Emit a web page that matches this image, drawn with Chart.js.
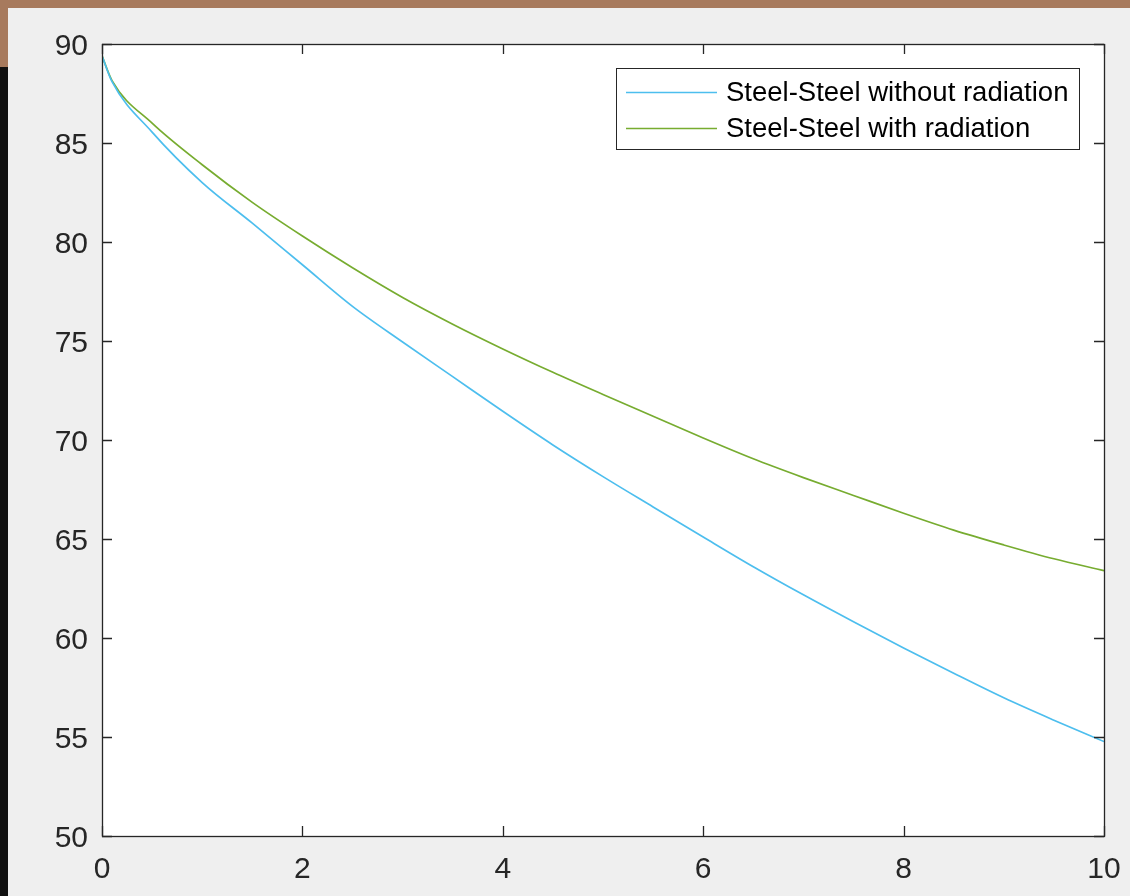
<!DOCTYPE html>
<html>
<head>
<meta charset="utf-8">
<title>Steel-Steel cooling</title>
<script src="https://cdn.jsdelivr.net/npm/chart.js@4.4.1/dist/chart.umd.min.js"></script>
<style>
    html, body { margin: 0; padding: 0; }
    body { width: 1130px; height: 896px; background: #efefef; position: relative; overflow: hidden; }
    .top-bar { position: absolute; left: 0; top: 0; width: 1130px; height: 8px; background: #a77a5d; }
    .side-brown { position: absolute; left: 0; top: 0; width: 8px; height: 67px; background: #a77a5d; }
    .side-dark { position: absolute; left: 0; top: 67px; width: 8px; height: 829px; background: #101010; }
    .chart-wrap { position: absolute; left: 8px; top: 8px; width: 1122px; height: 888px; }
</style>
</head>
<body>
<div class="top-bar"></div>
<div class="side-brown"></div>
<div class="side-dark"></div>
<div class="chart-wrap"><canvas id="cool-chart"></canvas></div>

<script>
// Values
const timeValues = [0, 0.1, 0.5, 1, 1.5, 2, 2.5, 3, 3.5, 4, 4.5, 5, 5.5, 6, 6.5, 7, 7.5, 8, 8.5, 9, 9.5, 10];
const withoutRadiation = [89.4, 88.1, 85.55, 83.0, 80.95, 78.85, 76.75, 74.95, 73.2, 71.45, 69.75, 68.15, 66.62, 65.1, 63.6, 62.18, 60.82, 59.5, 58.22, 56.98, 55.85, 54.77];
const withRadiation = [89.4, 88.15, 86.0, 83.9, 82.0, 80.3, 78.7, 77.2, 75.85, 74.6, 73.42, 72.3, 71.2, 70.1, 69.05, 68.1, 67.2, 66.3, 65.45, 64.7, 64.0, 63.4];
const seriesLabels = ['Steel-Steel without radiation', 'Steel-Steel with radiation'];
const seriesColors = ['#4dbeee', '#77ac30'];
const xTicks = [0, 2, 4, 6, 8, 10];
const yTicks = [50, 55, 60, 65, 70, 75, 80, 85, 90];

const fontFamily = "'Liberation Sans', Arial, Helvetica, sans-serif";
const axisColor = '#262626';

function toPoints(values) {
    return timeValues.map((t, i) => ({ x: t, y: values[i] }));
}

// White plot area, box and inward ticks like MATLAB
const axesBoxPlugin = {
    id: 'axesBox',
    beforeDraw(chart) {
        const a = chart.chartArea;
        const ctx = chart.ctx;
        ctx.save();
        ctx.fillStyle = '#ffffff';
        ctx.fillRect(a.left, a.top, a.right - a.left, a.bottom - a.top);
        ctx.restore();
    },
    afterDatasetsDraw(chart) {
        const a = chart.chartArea;
        const ctx = chart.ctx;
        const xs = chart.scales.x;
        const ys = chart.scales.y;
        const tickLen = 10;
        ctx.save();
        ctx.strokeStyle = axisColor;
        ctx.lineWidth = 1.3;
        ctx.beginPath();
        xTicks.forEach(v => {
            const px = Math.round(xs.getPixelForValue(v)) + 0.5;
            ctx.moveTo(px, a.bottom); ctx.lineTo(px, a.bottom - tickLen);
            ctx.moveTo(px, a.top); ctx.lineTo(px, a.top + tickLen);
        });
        yTicks.forEach(v => {
            const py = Math.round(ys.getPixelForValue(v)) + 0.5;
            ctx.moveTo(a.left, py); ctx.lineTo(a.left + tickLen, py);
            ctx.moveTo(a.right, py); ctx.lineTo(a.right - tickLen, py);
        });
        ctx.stroke();
        ctx.strokeRect(Math.round(a.left) + 0.5, Math.round(a.top) + 0.5,
            Math.round(a.right - a.left), Math.round(a.bottom - a.top));
        ctx.restore();
    },
    afterDraw(chart) {
        // Boxed legend in the upper right corner
        const a = chart.chartArea;
        const ctx = chart.ctx;
        ctx.save();
        ctx.font = '27.5px ' + fontFamily;
        const textW = Math.max(...chart.data.datasets.map(d => ctx.measureText(d.label).width));
        const boxW = Math.round(110 + textW + 11);
        const boxH = 81;
        const right = Math.round(a.right) - 25;
        const left = right - boxW;
        const top = Math.round(a.top) + 24;
        ctx.fillStyle = '#ffffff';
        ctx.fillRect(left, top, boxW, boxH);
        ctx.strokeStyle = axisColor;
        ctx.lineWidth = 1;
        ctx.strokeRect(left + 0.5, top + 0.5, boxW, boxH);
        chart.data.datasets.forEach((d, i) => {
            const y = top + 24 + i * 36;
            ctx.strokeStyle = d.borderColor;
            ctx.lineWidth = 1.5;
            ctx.beginPath();
            ctx.moveTo(left + 10, y + 0.5);
            ctx.lineTo(left + 101, y + 0.5);
            ctx.stroke();
            ctx.fillStyle = '#000000';
            ctx.textBaseline = 'middle';
            ctx.textAlign = 'left';
            ctx.fillText(d.label, left + 110, y + 1);
        });
        ctx.restore();
    }
};

const ctx = document.getElementById('cool-chart').getContext('2d');
const coolChart = new Chart(ctx, {
    type: 'line',
    data: {
        datasets: [
            {
                label: seriesLabels[0],
                data: toPoints(withoutRadiation),
                borderColor: seriesColors[0],
                borderWidth: 1.7,
                pointRadius: 0,
                fill: false,
                cubicInterpolationMode: 'monotone'
            },
            {
                label: seriesLabels[1],
                data: toPoints(withRadiation),
                borderColor: seriesColors[1],
                borderWidth: 1.7,
                pointRadius: 0,
                fill: false,
                cubicInterpolationMode: 'monotone'
            }
        ]
    },
    options: {
        responsive: true,
        maintainAspectRatio: false,
        animation: false,
        layout: {
            padding: { left: 0, top: 36, right: 26, bottom: 0 }
        },
        plugins: {
            legend: { display: false },
            tooltip: { enabled: false }
        },
        scales: {
            x: {
                type: 'linear',
                min: 0,
                max: 10,
                afterBuildTicks: scale => { scale.ticks = xTicks.map(v => ({ value: v })); },
                afterFit: scale => {
                    scale.height = 60;
                    scale.paddingLeft = 0;
                    scale.paddingRight = 0;
                },
                grid: { display: false, drawTicks: false },
                border: { display: false },
                ticks: {
                    padding: 16,
                    color: axisColor,
                    font: { family: fontFamily, size: 30 },
                    maxRotation: 0
                }
            },
            y: {
                type: 'linear',
                min: 50,
                max: 90,
                afterBuildTicks: scale => { scale.ticks = yTicks.map(v => ({ value: v })); },
                afterFit: scale => {
                    scale.width = 94;
                    scale.paddingTop = 0;
                    scale.paddingBottom = 0;
                },
                grid: { display: false, drawTicks: false },
                border: { display: false },
                ticks: {
                    padding: 14,
                    labelOffset: 3,
                    color: axisColor,
                    font: { family: fontFamily, size: 30 }
                }
            }
        }
    },
    plugins: [axesBoxPlugin]
});
</script>
</body>
</html>
